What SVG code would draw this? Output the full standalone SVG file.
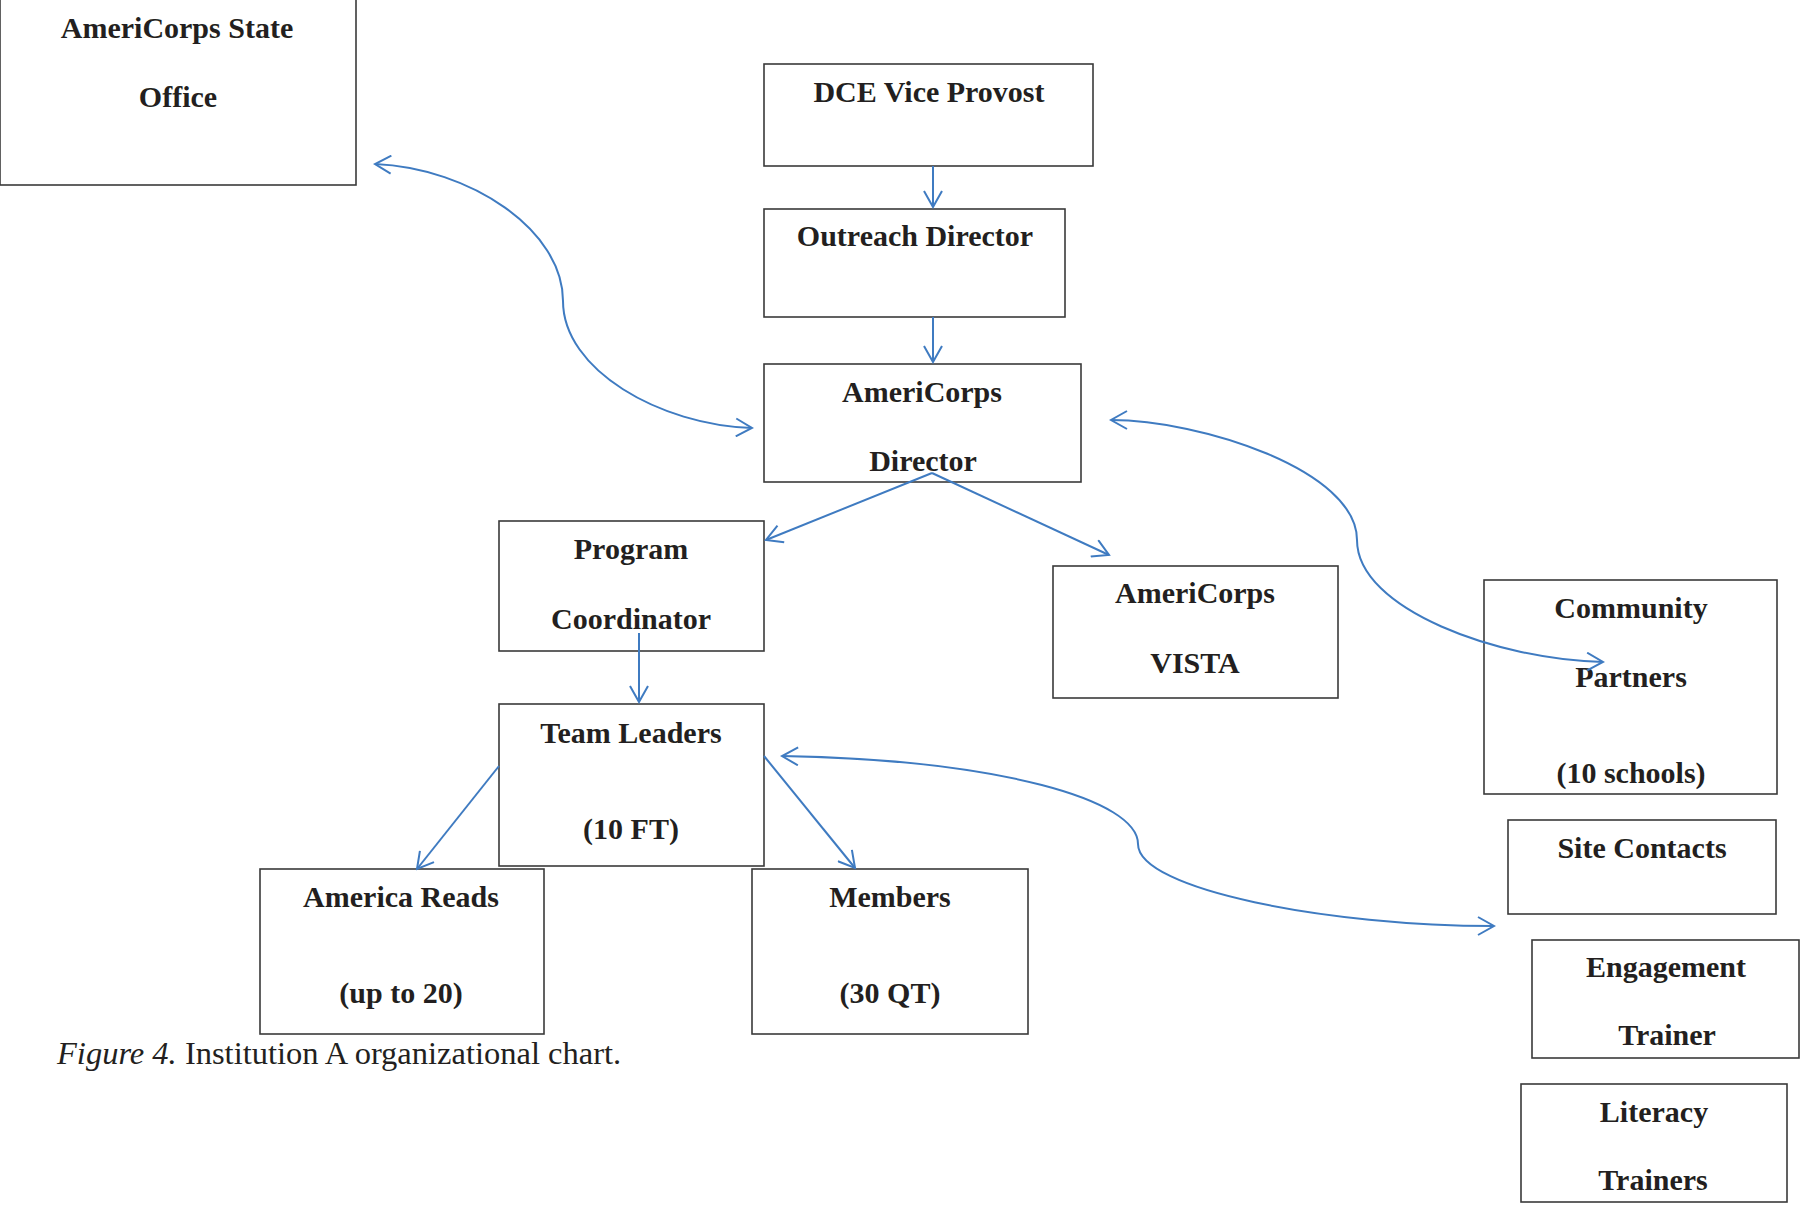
<svg xmlns="http://www.w3.org/2000/svg" width="1800" height="1205" viewBox="0 0 1800 1205">
<style>
.box{fill:#fff;stroke:#3a3a3a;stroke-width:1.6}
.t{font-family:"Liberation Serif","Times New Roman",serif;font-weight:bold;font-size:30px;fill:#231f20;text-anchor:middle}
.c{fill:none;stroke:#3f7bc1;stroke-width:2}
.cap{font-family:"Liberation Serif","Times New Roman",serif;font-size:32.5px;fill:#231f20}
</style>
<defs>
<marker id="ah" viewBox="0 0 20 20" refX="18" refY="10" markerWidth="20" markerHeight="20" markerUnits="userSpaceOnUse" orient="auto-start-reverse">
<path d="M2,1 L18,10 L2,19" fill="none" stroke="#3f7bc1" stroke-width="2"/>
</marker>
</defs>
<rect width="1800" height="1205" fill="#fff"/>

<g id="state-office"><rect class="box" x="0" y="-2" width="356" height="187"/><text class="t" x="177" y="38">AmeriCorps State</text><text class="t" x="178" y="107">Office</text></g>
<g id="dce-vice-provost"><rect class="box" x="764" y="64" width="329" height="102"/><text class="t" x="929" y="102">DCE Vice Provost</text></g>
<g id="outreach-director"><rect class="box" x="764" y="209" width="301" height="108"/><text class="t" x="915" y="246">Outreach Director</text></g>
<g id="americorps-director"><rect class="box" x="764" y="364" width="317" height="118"/><text class="t" x="922" y="402">AmeriCorps</text><text class="t" x="923" y="471">Director</text></g>
<g id="program-coordinator"><rect class="box" x="499" y="521" width="265" height="130"/><text class="t" x="631" y="559">Program</text><text class="t" x="631" y="629">Coordinator</text></g>
<g id="americorps-vista"><rect class="box" x="1053" y="566" width="285" height="132"/><text class="t" x="1195" y="603">AmeriCorps</text><text class="t" x="1195" y="673">VISTA</text></g>
<g id="team-leaders"><rect class="box" x="499" y="704" width="265" height="162"/><text class="t" x="631" y="743">Team Leaders</text><text class="t" x="631" y="839">(10 FT)</text></g>
<g id="america-reads"><rect class="box" x="260" y="869" width="284" height="165"/><text class="t" x="401" y="907">America Reads</text><text class="t" x="401" y="1003">(up to 20)</text></g>
<g id="members"><rect class="box" x="752" y="869" width="276" height="165"/><text class="t" x="890" y="907">Members</text><text class="t" x="890" y="1003">(30 QT)</text></g>
<g id="community-partners"><rect class="box" x="1484" y="580" width="293" height="214"/><text class="t" x="1631" y="618">Community</text><text class="t" x="1631" y="687">Partners</text><text class="t" x="1631" y="783">(10 schools)</text></g>
<g id="site-contacts"><rect class="box" x="1508" y="820" width="268" height="94"/><text class="t" x="1642" y="858">Site Contacts</text></g>
<g id="engagement-trainer"><rect class="box" x="1532" y="940" width="267" height="118"/><text class="t" x="1666" y="977">Engagement</text><text class="t" x="1667" y="1045">Trainer</text></g>
<g id="literacy-trainers"><rect class="box" x="1521" y="1084" width="266" height="118"/><text class="t" x="1654" y="1122">Literacy</text><text class="t" x="1653" y="1190">Trainers</text></g>

<g id="connectors">
<path class="c" d="M933,166 L933,207" marker-end="url(#ah)"/>
<path class="c" d="M933,317 L933,362" marker-end="url(#ah)"/>
<path class="c" d="M932,473 L766,540" marker-end="url(#ah)"/>
<path class="c" d="M932,473 L1109,555" marker-end="url(#ah)"/>
<path class="c" d="M639,633 L639,702" marker-end="url(#ah)"/>
<path class="c" d="M499,766 L417,869" marker-end="url(#ah)"/>
<path class="c" d="M764,756 L855,868" marker-end="url(#ah)"/>
<path class="c" d="M375,164 C470,168 563,230 563,301 C563,370 660,425 752,428" marker-start="url(#ah)" marker-end="url(#ah)"/>
<path class="c" d="M1111,420 C1200,420 1357,470 1357,540 C1357,610 1500,660 1603,662" marker-start="url(#ah)" marker-end="url(#ah)"/>
<path class="c" d="M782,756 C1000,760 1138,800 1138,844 C1138,890 1330,926 1494,926" marker-start="url(#ah)" marker-end="url(#ah)"/>
</g>

<text class="cap" x="57" y="1064"><tspan font-style="italic">Figure 4.</tspan> Institution A organizational chart.</text>
</svg>
